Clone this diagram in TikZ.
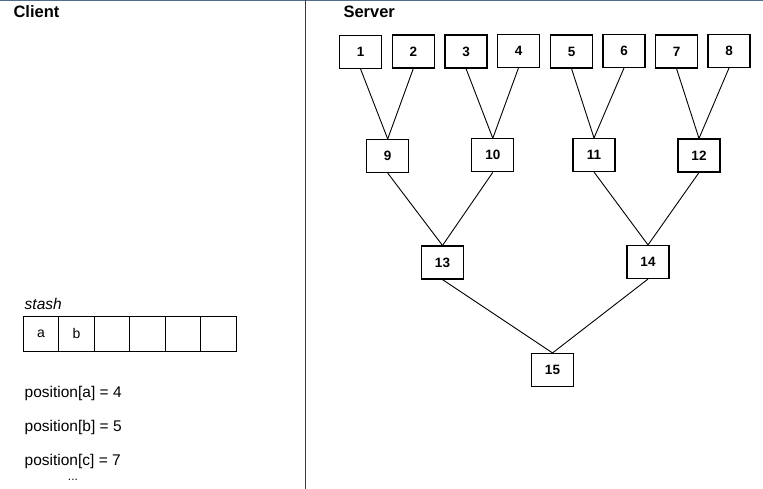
\documentclass[tikz,border=0pt]{standalone}
\usepackage{fontspec}
\setmainfont{Liberation Sans}
\definecolor{topline}{RGB}{80,110,140}
\definecolor{divider}{RGB}{60,60,60}
\begin{document}
\begin{tikzpicture}[x=1pt,y=-1pt,
  treebox/.style={draw, line width=1.1pt, minimum width=42pt, minimum height=33pt,
    inner sep=0pt, font=\fontsize{13.5}{16}\selectfont\bfseries},
  cell/.style={draw, line width=0.9pt, minimum width=35.45pt, minimum height=35.7pt,
    inner sep=0pt, outer sep=0pt, font=\fontsize{14}{16}\selectfont},
  edge/.style={line width=0.9pt},
  txt/.style={anchor=base west, inner sep=0pt, font=\fontsize{15.5}{18}\selectfont},
  heading/.style={anchor=base west, inner sep=0pt, font=\fontsize{16.5}{20}\selectfont\bfseries}]
\useasboundingbox (0,0) rectangle (763,489);

% frame: top rule and the column divider
\draw[line width=1.5pt, topline] (0,0.75) -- (763,0.75);
\draw[line width=1.3pt, divider] (305.7,0) -- (305.7,489);

% column headings
\node[heading] (client) at (13.3,17.3) {Client};
\node[heading] (server) at (343.3,17.3) {Server};

% client side: stash array
\node[txt, font=\fontsize{15.5}{18}\selectfont\itshape] (stashlbl) at (24.5,309) {stash};
\foreach \i/\t in {1/a,2/b,3/,4/,5/,6/} {
  \node[cell] (s\i) at ({23.3+17.73+35.45*(\i-1)},333.85) {\t};
}

% client side: position map
\node[txt] (posa) at (24.5,397.3) {position[a] = 4};
\node[txt] (posb) at (24.5,431.5) {position[b] = 5};
\node[txt] (posc) at (24.5,465.6) {position[c] = 7};
\node[txt, anchor=base, font=\fontsize{12}{14}\selectfont] (dots) at (73,480.5) {...};

% server side: tree of buckets
\node[treebox] (n1) at (360.5,51.8) {1};
\node[treebox] (n2) at (413.3,51.5) {2};
\node[treebox] (n3) at (466,51.5) {3};
\node[treebox] (n4) at (518.5,50.8) {4};
\node[treebox] (n5) at (571.5,51.5) {5};
\node[treebox] (n6) at (624,51) {6};
\node[treebox] (n7) at (676.5,51.5) {7};
\node[treebox] (n8) at (729,51) {8};
\node[treebox] (n9) at (387.7,156) {9};
\node[treebox] (n10) at (492.8,155.3) {10};
\node[treebox] (n11) at (594,155) {11};
\node[treebox] (n12) at (699,155.5) {12};
\node[treebox] (n13) at (442.5,262.5) {13};
\node[treebox] (n14) at (648,262) {14};
\node[treebox] (n15) at (552.5,370) {15};

\foreach \c/\p in {1/9,2/9,3/10,4/10,5/11,6/11,7/12,8/12,9/13,10/13,11/14,12/14,13/15,14/15} {
  \draw[edge] (n\c.south) -- (n\p.north);
}
\end{tikzpicture}
\end{document}
